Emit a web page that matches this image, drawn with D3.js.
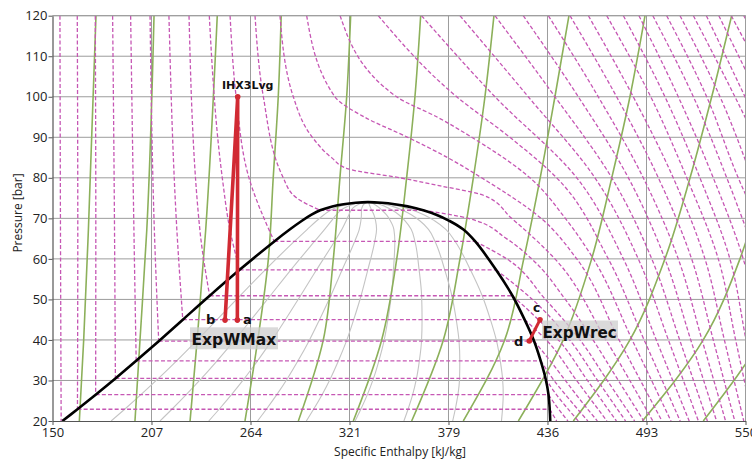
<!DOCTYPE html>
<html><head><meta charset="utf-8">
<script src="https://cdn.jsdelivr.net/npm/d3@7"></script>
<style>body{margin:0;background:#fff}svg{display:block}</style>
</head><body>
<script>
// ---------- DATA ----------
const xTickValues = [150, 207.14, 264.29, 321.43, 378.57, 435.71, 492.86, 550];
const xTickLabels = ["150","207","264","321","379","436","493","550"];
const yTickValues = [20,30,40,50,60,70,80,90,100,110,120];

// saturation dome (pressure, liquid enthalpy, vapour enthalpy)
const domeP  = [20, 22.9, 26.5, 30.5, 34.85, 39.7, 45, 50.9, 57.3, 64.3, 67.3, 69.4, 70.9, 72.0, 72.95, 73.5, 73.85];
const domeHl = [155.7,164.4,174.9,186.3,198.3,211.3,225.2,240.7,258.0,278.0,287.1,294.0,299.5,304.5,311.5,318,325];
const domeHv = [437.3,437,436.3,434.6,431.8,428,422.5,415.5,406,394,387,379,371.5,364,355,347.5,340];
const critical = [332, 74.0];
const qualities = [0.1,0.2,0.3,0.4,0.5,0.6,0.7,0.8,0.9];

// sub-critical isotherms
const subTemps = [-20,-15,-10,-5,0,5,10,15,20,25,30];
const subSatP  = [19.7,22.9,26.5,30.5,34.85,39.7,45,50.9,57.3,64.3,72.0];
const subLiquid = [
  [[154.3,120],[154.6,67],[155.0,19.7]],
  [[164.3,120],[164.6,67],[164.4,22.9]],
  [[174.7,120],[175.0,67],[174.9,26.5]],
  [[184.7,120],[185.8,67],[186.3,30.5]],
  [[195.1,120],[197.0,67],[198.3,34.85]],
  [[206.3,120],[208.8,67],[211.3,39.7]],
  [[217.2,120],[221.8,67],[225.2,45]],
  [[228.8,120],[235.1,67],[240.7,50.9]],
  [[240.5,120],[248,80],[252.5,67],[258.0,57.3]],
  [[252.5,120],[256,100],[263.4,80],[278.0,64.3]],
  [[266.9,120],[271.7,100],[283.2,80],[291,75],[304.5,72.0]]
];
const subVapor = [
  [],
  [[437,22.9],[441,20]],
  [[436.3,26.5],[442,23],[447.5,20]],
  [[434.6,30.5],[440,27],[446.5,23.5],[453.5,20]],
  [[431.8,34.85],[439.5,30],[449,25],[459,20]],
  [[428,39.7],[437,35],[446,30],[455,25],[464.5,20]],
  [[422.5,45],[435,40],[452.5,30],[470,20]],
  [[415.5,50.9],[428,46],[442,40],[458.8,30],[475.5,20]],
  [[406,57.3],[427,50],[448.5,40],[464.6,30],[480.8,20]],
  [[394,64.3],[412.2,60],[434.5,50],[454.5,40],[470.2,30],[486,20]],
  [[364,72.0],[390,70],[412,65],[426.6,60],[446,50],[462,40],[476.6,30],[491.3,20]]
];

// super-critical isotherms
const superTemps = [35,40,45,50,55,60,65,70,75,80,85,90,95,100,105,110,115,120,125,130,135,140];
const superPts = [
  [[281.3,120],[289,100],[300,90],[311,85],[320.7,82.2],[350.6,80],[374,78],[398.7,75.7],[415,70],[440,60],[469.5,40],[496.5,20]],
  [[296.7,120],[313,100],[330,95],[355,90],[378,85],[397.7,80],[432,70],[452.6,60],[477,40],[501.8,20]],
  [[316,120],[348.6,100],[372,95],[392,90],[425.6,80],[446,70],[462.2,60],[484.6,40],[507,20]],
  [[338,120],[383.3,100],[414,90],[441,80],[470.8,60],[491.5,40],[512.3,20]],
  [[363,120],[405.4,100],[452.6,80],[479.5,60],[498.5,40],[517.5,20]],
  [[385.2,120],[424.6,100],[463.1,80],[488.1,60],[505.5,40],[522.8,20]],
  [[405.4,120],[440,100],[472.8,80],[495.9,60],[512,40],[528,20]],
  [[421.7,120],[453.5,100],[482.4,80],[503.5,60],[518.4,40],[533.3,20]],
  [[436.2,120],[465,100],[491,80],[511.2,60],[524.9,40],[538.5,20]],
  [[448.7,120],[475.6,100],[499.7,80],[518.9,60],[531.4,40],[543.8,20]],
  [[459.3,120],[485.2,100],[508.3,80],[526.6,60],[537.8,40],[549,20]],
  [[469.9,120],[495.3,100],[516.1,80],[534.3,60],[544.3,40],[554.3,20]],
  [[479.5,120],[503.5,100],[523.7,80],[541,60],[550.3,40],[559.5,20]],
  [[488.5,120],[511.2,100],[531.4,80],[548.7,60],[556,48]],
  [[496.5,120],[519.9,100],[539.2,80],[555,62]],
  [[504.5,120],[527.6,100],[545.8,80],[552,74]],
  [[512.2,120],[535.3,100],[552,82]],
  [[519.9,120],[543.9,100],[552,93]],
  [[527.4,120],[549.7,100],[553,97]],
  [[534.6,120],[553,104]],
  [[541.8,120],[553,111]],
  [[549,120],[553,117]]
];

// isentropes
const isentropes = [
  [[165.5,20],[168,40],[170.7,67],[175.1,120]],
  [[197.6,20],[200.5,40],[204.4,67],[208.6,120]],
  [[229.4,20],[233.5,40],[238.4,67],[245.1,120]],
  [[261.1,20],[268.5,40],[274.6,60],[277.4,80],[280.3,100],[282,120]],
  [[291.9,20],[306.3,40],[312.1,60],[315.9,80],[319.8,100],[322.1,120]],
  [[323.6,20],[340,40],[348.7,60],[354.4,80],[359.2,100],[362.5,120]],
  [[357.3,20],[375.6,40],[385.2,60],[392.9,80],[399.6,100],[404.8,120]],
  [[387.1,20],[411,40],[422,60],[431.5,80],[440,100],[448.1,120]],
  [[418.9,20],[444.8,40],[461.2,60],[472.8,80],[483.3,100],[492,120]],
  [[450.6,20],[483.3,40],[503.5,60],[518,80],[530.5,100],[542,120]],
  [[490.5,20],[525.6,40],[546.8,60],[556,72]],
  [[525.6,20],[545,31],[558,39]]
];

// cycle states [h, p]
const ptA = [256.7, 44.9];
const ptTop = [256.9, 100];
const ptB = [249.6, 44.9];
const ptC = [431.4, 45.0];
const ptD = [425.2, 39.75];

// ---------- DRAW ----------
const W=752,H=462, X0=52.5, X1=745.5, Y0=15.7, Y1=421;
const x=d3.scaleLinear().domain([150,550]).range([X0,X1]);
const y=d3.scaleLinear().domain([20,120]).range([Y1,Y0]);
const svg=d3.select("body").append("svg").attr("width",W).attr("height",H);
svg.append("defs").append("clipPath").attr("id","clip").append("rect")
  .attr("x",X0).attr("y",Y0).attr("width",X1-X0).attr("height",Y1-Y0);

const gridC="#9c9c9c";
svg.append("g").selectAll("line").data(xTickValues.slice(1)).join("line")
  .attr("x1",d=>x(d)).attr("x2",d=>x(d)).attr("y1",Y0).attr("y2",Y1)
  .attr("stroke",gridC).attr("stroke-width",1);
svg.append("g").selectAll("line").data(yTickValues.slice(1)).join("line")
  .attr("x1",X0).attr("x2",X1).attr("y1",d=>y(d)).attr("y2",d=>y(d))
  .attr("stroke",gridC).attr("stroke-width",1);

const plot=svg.append("g").attr("clip-path","url(#clip)");
const mono=d3.line().x(d=>x(d[0])).y(d=>y(d[1])).curve(d3.curveMonotoneY);
const lin=d3.line().x(d=>x(d[0])).y(d=>y(d[1]));
const smooth=d3.line().x(d=>x(d[0])).y(d=>y(d[1])).curve(d3.curveCatmullRom.alpha(0.5));

// quality lines
const qLines = qualities.map(q => domeP.map((p,i)=>[domeHl[i]+q*(domeHv[i]-domeHl[i]), p]).concat([critical]));
plot.append("g").selectAll("path").data(qLines).join("path")
  .attr("d",mono).attr("fill","none").attr("stroke","#c4c4c4").attr("stroke-width",1.1);

// isentropes
plot.append("g").selectAll("path").data(isentropes).join("path")
  .attr("d",mono).attr("fill","none").attr("stroke","#8cb05a").attr("stroke-width",1.6);

// isotherms
const isoStyle = s => s.attr("fill","none").attr("stroke","#c657b4").attr("stroke-width",1.3).attr("stroke-dasharray","4,2.2");
const gIso=plot.append("g");
subTemps.forEach((t,i)=>{
  isoStyle(gIso.append("path").attr("d",mono(subLiquid[i])));
  const v=subVapor[i];
  if(v.length){
    const l=subLiquid[i][subLiquid[i].length-1];
    isoStyle(gIso.append("path").attr("d",lin([[l[0],subSatP[i]],[v[0][0],subSatP[i]]])));
    isoStyle(gIso.append("path").attr("d",mono(v)));
  }
});
gIso.selectAll(".sup").data(superPts).join("path").attr("class","sup").attr("d",mono).call(isoStyle);

// dome
const domePts = domeP.map((p,i)=>[domeHl[i],p]).concat([critical]).concat(domeP.map((p,i)=>[domeHv[i],p]).reverse());
plot.append("path").attr("d",smooth(domePts)).attr("fill","none").attr("stroke","#000").attr("stroke-width",2.6);

// frame top/right
svg.append("line").attr("x1",X0).attr("x2",X1).attr("y1",Y0).attr("y2",Y0).attr("stroke",gridC);
svg.append("line").attr("x1",X1).attr("x2",X1).attr("y1",Y0).attr("y2",Y1).attr("stroke",gridC);

// axes
const fontAxis="'Open Sans', 'Noto Sans', sans-serif";
const xAxis=d3.axisBottom(x).tickValues(xTickValues).tickFormat((d,i)=>xTickLabels[i]).tickSize(4).tickSizeOuter(0).tickPadding(3);
const gx=svg.append("g").attr("transform",`translate(0,${Y1})`).call(xAxis);
const yAxis=d3.axisLeft(y).tickValues(yTickValues).tickSize(4).tickSizeOuter(0).tickPadding(1);
const gy=svg.append("g").attr("transform",`translate(${X0},0)`).call(yAxis);
[gx,gy].forEach(g=>{
  g.select(".domain").attr("stroke","#555").attr("stroke-width",1.2);
  g.selectAll(".tick line").attr("stroke","#555");
  g.selectAll("text").attr("font-family",fontAxis).attr("font-size",13).attr("fill","#222");
});
svg.append("text").attr("transform","translate(22,213) rotate(-90)").attr("text-anchor","middle")
  .attr("font-family",fontAxis).attr("font-size",12).attr("fill","#222").text("Pressure [bar]");
svg.append("text").attr("x",400).attr("y",456).attr("text-anchor","middle")
  .attr("font-family",fontAxis).attr("font-size",12).attr("fill","#222").text("Specific Enthalpy [kJ/kg]");

// cycle
const red="#d12a33";
svg.append("path").attr("d",lin([ptB,ptTop,ptA])).attr("fill","none").attr("stroke",red)
  .attr("stroke-width",3.6).attr("stroke-linejoin","round");
svg.append("path").attr("d",lin([ptC,ptD])).attr("fill","none").attr("stroke",red).attr("stroke-width",3);
svg.selectAll(".dot").data([ptA,ptB,ptTop,ptC,ptD]).join("circle").attr("class","dot")
  .attr("cx",d=>x(d[0])).attr("cy",d=>y(d[1])).attr("r",2.8).attr("fill",red);

// label boxes
const lblFont="'DejaVu Sans', Verdana, sans-serif";
svg.append("rect").attr("x",190).attr("y",327.3).attr("width",88).attr("height",22).attr("fill","rgba(205,205,205,0.75)");
svg.append("rect").attr("x",542).attr("y",320.5).attr("width",76).attr("height",19.5).attr("fill","rgba(205,205,205,0.75)");
const lab=(t,xx,yy,fs,anchor)=>svg.append("text").attr("x",xx).attr("y",yy).attr("text-anchor",anchor||"start")
  .attr("font-family",lblFont).attr("font-weight","bold").attr("font-size",fs).attr("fill","#111").text(t);
lab("IHX3Lvg",x(ptTop[0])+10,89,11,"middle");
lab("a",243,324,13);
lab("b",206,324,13);
lab("c",533,312,12);
lab("d",514,346,13);
lab("ExpWMax",191.5,345,15.5);
lab("ExpWrec",542.5,337.5,15.2);
</script>
</body></html>
